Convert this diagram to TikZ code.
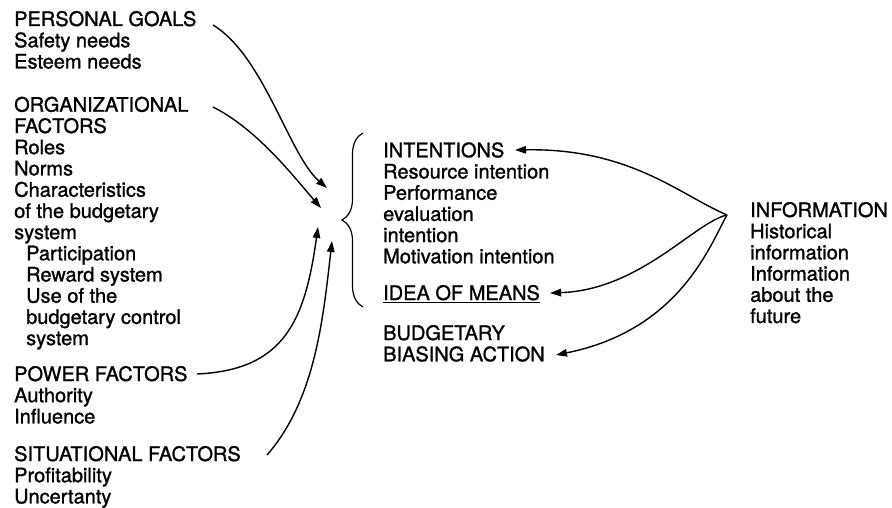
\documentclass[tikz,border=0pt]{standalone}
\usepackage{fontspec}
\setmainfont{TeX Gyre Heros}[FakeBold=1.2]
\usetikzlibrary{arrows.meta,decorations.pathreplacing}
\begin{document}
\begin{tikzpicture}[x=1pt,y=-1pt,
  lbl/.style={anchor=base west, inner sep=0pt, font=\fontsize{20}{21.2}\selectfont},
  link/.style={line width=1.4pt, -{Triangle[length=11pt,width=7.5pt]}},
  bracestyle/.style={line width=1.2pt, decorate,
    decoration={brace, amplitude=21pt, aspect=0.5}},
]
\useasboundingbox (0,0) rectangle (892,508);

% left column: influencing factors
\node[lbl] (pg) at (14,26) {\begin{tabular}[t]{@{}l@{}}
  PERSONAL GOALS\\ Safety needs\\ Esteem needs\end{tabular}};
\node[lbl] (of) at (14,111.7) {\begin{tabular}[t]{@{}l@{}}
  ORGANIZATIONAL\\ FACTORS\\ Roles\\ Norms\\ Characteristics\\
  of the budgetary\\ system\\
  \hspace{12pt}Participation\\ \hspace{12pt}Reward system\\
  \hspace{12pt}Use of the\\ \hspace{12pt}budgetary control\\
  \hspace{12pt}system\end{tabular}};
\node[lbl] (pf) at (14,381) {\begin{tabular}[t]{@{}l@{}}
  POWER FACTORS\\ Authority\\ Influence\end{tabular}};
\node[lbl] (sf) at (14,461) {\begin{tabular}[t]{@{}l@{}}
  SITUATIONAL FACTORS\\ Profitability\\ Uncertanty\end{tabular}};

% middle column: intentions and actions
\node[lbl] (int) at (383,157.3) {\begin{tabular}[t]{@{}l@{}}
  INTENTIONS\\ Resource intention\\ Performance\\ evaluation\\
  intention\\ Motivation intention\end{tabular}};
\node[lbl] (means) at (383,300) {\underline{IDEA OF MEANS}};
\node[lbl] (bba) at (383,340) {\begin{tabular}[t]{@{}l@{}}
  BUDGETARY\\ BIASING ACTION\end{tabular}};

% right column: information
\node[lbl] (info) at (750,217) {\begin{tabular}[t]{@{}l@{}}
  INFORMATION\\ Historical\\ information\\ Information\\
  about the\\ future\end{tabular}};

% brace grouping intentions and idea of means
\coordinate (brT) at (363,133);
\coordinate (brB) at (363,307);
\draw[bracestyle] (brB) -- (brT);

% arrow ends
\coordinate (pgS) at (213,25);   \coordinate (pgE) at (327,188);
\coordinate (ofS) at (213,107);  \coordinate (ofE) at (321,208);
\coordinate (pfS) at (197,374);  \coordinate (pfE) at (318,227);
\coordinate (sfS) at (267,455);  \coordinate (sfE) at (332,241);
\coordinate (src) at (727,215);
\coordinate (intE) at (515,150);
\coordinate (meansE) at (550,293);
\coordinate (bbaE) at (556,355);

% converging arrows from the factors
\draw[link] (pgS) .. controls (264,56) and (289,155) .. (pgE);
\draw[link] (ofS) .. controls (257,129) and (294,177) .. (ofE);
\draw[link] (pfS) .. controls (285,370) and (305,320) .. (pfE);
\draw[link] (sfS) .. controls (315,400) and (323,320) .. (sfE);

% diverging arrows from information
\draw[link] (src) .. controls (680,195) and (630,148) .. (intE);
\draw[link] (src) .. controls (695,222) and (640,290) .. (meansE);
\draw[link] (src) .. controls (710,245) and (680,330) .. (bbaE);
\end{tikzpicture}
\end{document}
